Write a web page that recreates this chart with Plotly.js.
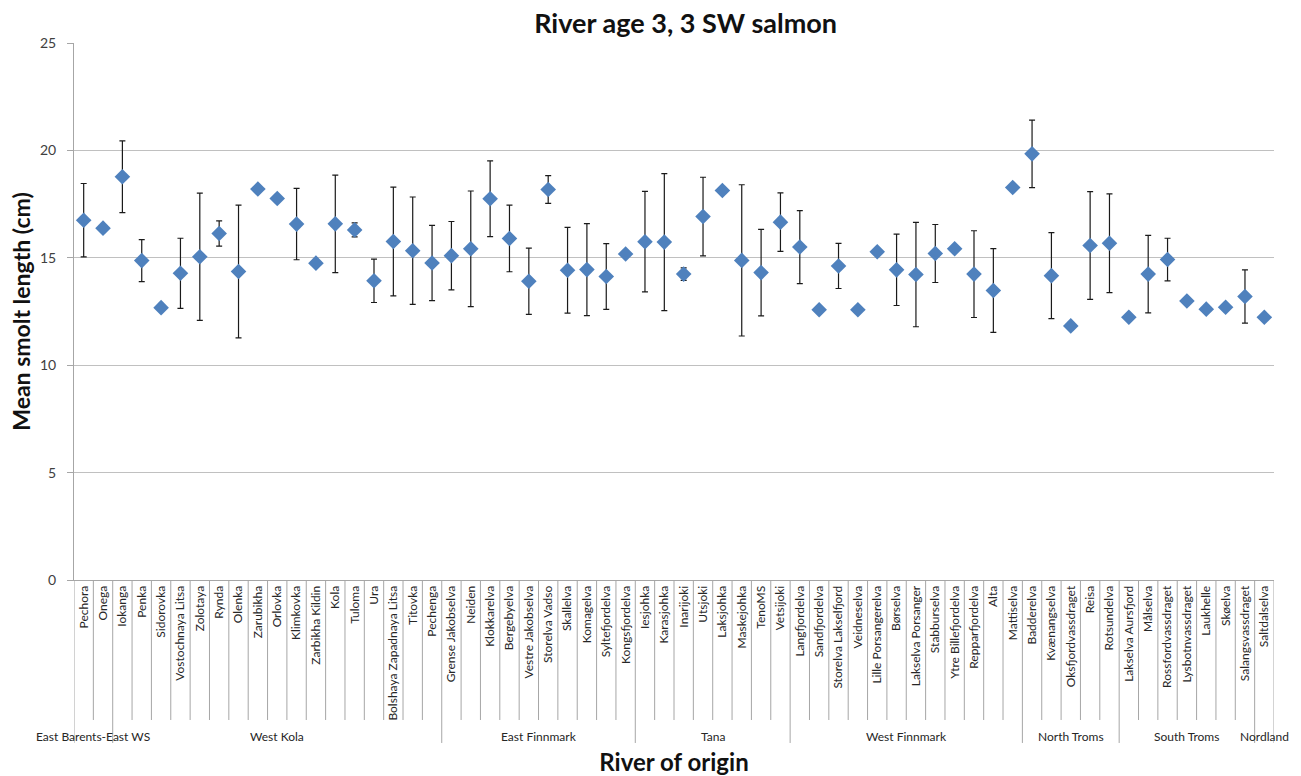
<!DOCTYPE html>
<html><head><meta charset="utf-8">
<script src="https://cdn.plot.ly/plotly-3.0.1.min.js"></script>
<style>html,body{margin:0;padding:0;background:#fff;}#chart{width:1301px;height:776px;}</style>
</head><body><div id="chart"></div>
<script>
const rivers = ["Pechora","Onega","Iokanga","Penka","Sidorovka","Vostochnaya Litsa","Zolotaya","Rynda","Olenka","Zarubikha","Orlovka","Klimkovka","Zarbikha Kildin","Kola","Tuloma","Ura","Bolshaya Zapadnaya Litsa","Titovka","Pechenga","Grense Jakobselva","Neiden","Klokkarelva","Bergebyelva","Vestre Jakobselva","Storelva Vadso","Skallelva","Komagelva","Syltefjordelva","Kongsfjordelva","Iesjohka","Karasjohka","Inarijoki","Utsjoki","Laksjohka","Maskejohka","TenoMS","Vetsijoki","Langfjordelva","Sandfjordelva","Storelva Lakselfjord","Veidneselva","Lille Porsangerelva","Børselva","Lakselva Porsanger","Stabburselva","Ytre Billefjordelva","Repparfjordelva","Alta","Mattiselva","Badderelva","Kvænangselva","Oksfjordvassdraget","Reisa","Rotsundelva","Lakselva Aursfjord","Målselva","Rossfordvassdraget","Lysbotnvassdraget","Laukhelle","Skøelva","Salangsvassdraget","Saltdalselva"];
const meanLength = [16.75,16.38,18.77,14.87,12.68,14.28,15.05,16.13,14.36,18.20,17.76,16.57,14.75,16.58,16.30,13.93,15.76,15.33,14.76,15.10,15.42,17.75,15.90,13.91,18.18,14.42,14.45,14.13,15.18,15.75,15.73,14.24,16.92,18.13,14.88,14.31,16.66,15.50,12.58,14.62,12.58,15.28,14.44,14.22,15.20,15.42,14.24,13.48,18.27,19.84,14.17,11.83,15.57,15.68,12.23,14.24,14.92,12.99,12.61,12.70,13.20,12.23];
const sdLength = [1.71,null,1.67,0.98,null,1.63,2.96,0.59,3.09,null,null,1.66,null,2.27,0.33,1.01,2.53,2.50,1.75,1.59,2.69,1.76,1.55,1.54,0.65,2.00,2.14,1.53,null,2.34,3.19,0.29,1.83,null,3.52,2.01,1.36,1.70,null,1.05,null,null,1.66,2.43,1.35,null,2.02,1.95,null,1.57,2.00,null,2.51,2.30,null,1.80,0.99,null,null,null,1.24,null];
const groupNames = ["East Barents-East WS","West Kola","East Finnmark","Tana","West Finnmark","North Troms","South Troms","Nordland"];
const groupSizes = [2,17,10,8,12,5,7,1];
const yTicks = [0,5,10,15,20,25];

const FONT = "Lato, 'Open Sans', sans-serif";
const LINE = "#a6a6a6";

// boundaries between categories: tick separators and group dividers
const groupEdges = [0];
groupSizes.forEach(s => groupEdges.push(groupEdges[groupEdges.length-1] + s));
const shapes = [];
for (let b = 0; b <= rivers.length; b++) {
  const isGroup = groupEdges.includes(b);
  shapes.push({type:'line', xref:'x', yref:'paper', x0:b-0.5, x1:b-0.5, y0:0, y1:isGroup ? -0.3035 : -0.2607,
    line:{color:LINE, width:1}, layer:'above'});
}
const annotations = groupNames.map((g, i) => ({
  xref:'x', yref:'paper', x: groupEdges[i] + (groupSizes[i]-1)/2, y:-0.292, yanchor:'middle',
  text:g, showarrow:false, font:{family:FONT, size:12, color:'#262626'}
}));

const trace = {
  type:'scatter', mode:'markers', x:rivers, y:meanLength,
  marker:{symbol:'diamond', size:12, color:'#4f81bd'},
  error_y:{type:'data', array:sdLength, visible:true, color:'#1a1a1a', thickness:1.2, width:3},
  hoverinfo:'x+y'
};
const layout = {
  width:1301, height:776,
  margin:{l:74, r:27, t:43, b:196},
  paper_bgcolor:'#fff', plot_bgcolor:'#fff',
  showlegend:false,
  title:{text:'River age 3, 3 SW salmon', x:0.527, xanchor:'center', y:1-24/776, yref:'container', yanchor:'middle',
    font:{family:FONT, size:27, weight:'bold', color:'#111'}},
  xaxis:{type:'category', range:[-0.5, rivers.length-0.5], tickangle:-90, ticks:'', showgrid:false,
    showline:true, linecolor:LINE, linewidth:1, zeroline:false,
    tickfont:{family:FONT, size:12, color:'#262626'},
    title:{text:'River of origin', standoff:44, font:{family:FONT, size:24, weight:'bold', color:'#111'}}},
  yaxis:{range:[0,25], tickvals:yTicks, ticks:'outside', ticklen:6, tickcolor:LINE, showline:true, linecolor:LINE,
    ticklabelstandoff:8,
    gridcolor:'#c0c0c0', zeroline:false, tickfont:{family:FONT, size:14, color:'#404040'},
    title:{text:'Mean smolt length (cm)', standoff:2, font:{family:FONT, size:23, weight:'bold', color:'#111'}}},
  shapes:shapes, annotations:annotations
};
Plotly.newPlot('chart', [trace], layout, {displayModeBar:false, staticPlot:true});
</script></body></html>
